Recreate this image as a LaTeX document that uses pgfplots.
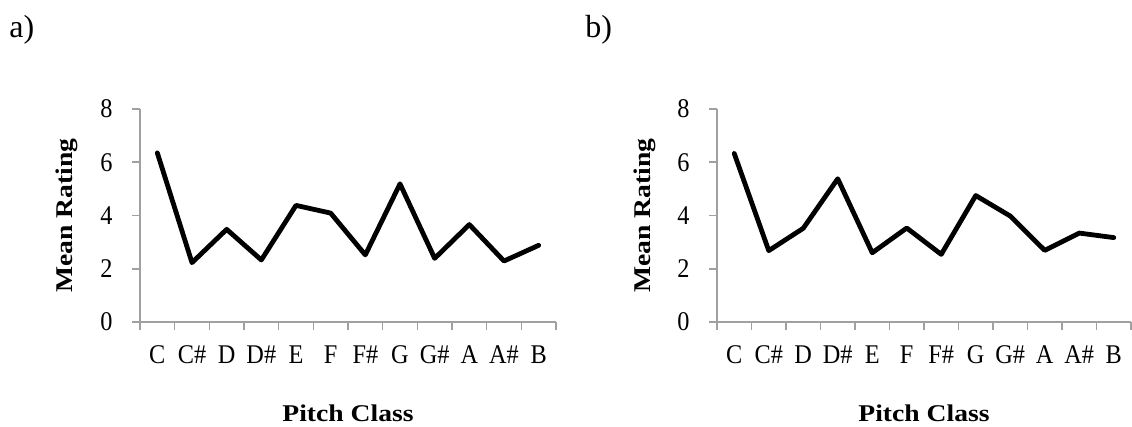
\documentclass[border=0pt]{standalone}
\usepackage{fontspec}
\setmainfont{Liberation Serif}
\newfontfamily\tickfont{Liberation Serif}[FakeStretch=0.9]
\newfontfamily\titlefont{Liberation Serif}[FakeStretch=1.15]
\usepackage{pgfplots}
\pgfplotsset{compat=1.18}
\definecolor{axisgray}{RGB}{160,160,160}
\pgfplotsset{
  kkstyle/.style={
    scale only axis,
    height=106.5pt,
    xmin=-0.5, xmax=11.5,
    ymin=0, ymax=8,
    axis x line=bottom, axis y line=left,
    axis line style={-, draw=axisgray, line width=0.8pt},
    tick style={draw=axisgray, line width=0.8pt},
    tick align=outside,
    major tick length=4pt,
    ytick={0,2,4,6,8},
    xtick={-0.5,0.5,...,11.5},
    xticklabels={},
    extra x ticks={0,1,2,3,4,5,6,7,8,9,10,11},
    extra x tick labels={C,C\#,D,D\#,E,F,F\#,G,G\#,A,A\#,B},
    extra x tick style={major tick length=0pt, xticklabel style={anchor=base, yshift=-21pt, inner sep=0pt}},
    /pgf/number format/assume math mode=true,
    ticklabel style={font=\tickfont\fontsize{13.5}{16}\selectfont},
    yticklabel style={anchor=east, inner sep=0pt, xshift=-9.5pt},
    xlabel={Pitch Class},
    ylabel={Mean Rating},
    label style={font=\titlefont\bfseries\fontsize{12}{14}\selectfont},
    xlabel style={at={(axis description cs:0.5,0)}, anchor=base, yshift=-50pt, inner sep=0pt},
    ylabel style={at={(axis description cs:-0.1755,0.5)}, anchor=center, inner sep=0pt},
    clip=false,
  }
}
\begin{document}
\begin{tikzpicture}
\useasboundingbox (0,0) rectangle (566pt,-213.5pt);
\node[anchor=west, inner sep=0pt, font=\fontsize{16}{19}\selectfont] at (4.5pt,-15pt) {a)};
\node[anchor=west, inner sep=0pt, font=\fontsize{16}{19}\selectfont] at (292.5pt,-15pt) {b)};
\begin{axis}[kkstyle, width=208pt, at={(70pt,-161pt)}, anchor=south west]
\addplot[black, line width=2.4pt, line join=round, line cap=round] coordinates {
(0,6.35) (1,2.23) (2,3.48) (3,2.33) (4,4.38) (5,4.09) (6,2.52) (7,5.19) (8,2.39) (9,3.66) (10,2.29) (11,2.88)};
\end{axis}
\begin{axis}[kkstyle, width=207pt, at={(358.5pt,-161pt)}, anchor=south west]
\addplot[black, line width=2.4pt, line join=round, line cap=round] coordinates {
(0,6.33) (1,2.68) (2,3.52) (3,5.38) (4,2.60) (5,3.53) (6,2.54) (7,4.75) (8,3.98) (9,2.69) (10,3.34) (11,3.17)};
\end{axis}
\end{tikzpicture}
\end{document}
